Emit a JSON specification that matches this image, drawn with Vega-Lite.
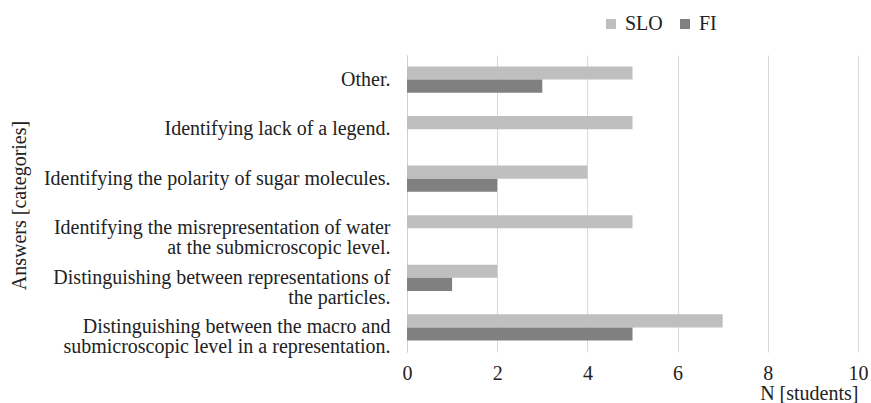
{
  "$schema": "https://vega.github.io/schema/vega-lite/v6.json",
  "autosize": {"type": "none"},
  "width": 451,
  "height": 297,
  "padding": {"left": 407, "top": 55, "right": 13, "bottom": 51},
  "background": "white",
  "config": {
    "view": {"stroke": null},
    "font": "'Liberation Serif', 'Times New Roman', Times, serif",
    "text": {"font": "'Liberation Serif', 'Times New Roman', Times, serif"},
    "axis": {"labelFont": "'Liberation Serif', 'Times New Roman', Times, serif", "titleFont": "'Liberation Serif', 'Times New Roman', Times, serif", "labelColor": "#222", "titleColor": "#222", "titleFontWeight": "normal"},
    "legend": {"labelFont": "'Liberation Serif', 'Times New Roman', Times, serif"}
  },
  "data": {
    "values": [
      {"answer": "Other.", "series": "SLO", "n": 5},
      {"answer": "Other.", "series": "FI", "n": 3},
      {"answer": "Identifying lack of a legend.", "series": "SLO", "n": 5},
      {"answer": "Identifying lack of a legend.", "series": "FI", "n": 0},
      {"answer": "Identifying the polarity of sugar molecules.", "series": "SLO", "n": 4},
      {"answer": "Identifying the polarity of sugar molecules.", "series": "FI", "n": 2},
      {"answer": "Identifying the misrepresentation of water at the submicroscopic level.", "series": "SLO", "n": 5},
      {"answer": "Identifying the misrepresentation of water at the submicroscopic level.", "series": "FI", "n": 0},
      {"answer": "Distinguishing between representations of the particles.", "series": "SLO", "n": 2},
      {"answer": "Distinguishing between representations of the particles.", "series": "FI", "n": 1},
      {"answer": "Distinguishing between the macro and submicroscopic level in a representation.", "series": "SLO", "n": 7},
      {"answer": "Distinguishing between the macro and submicroscopic level in a representation.", "series": "FI", "n": 5}
    ]
  },
  "mark": {"type": "bar"},
  "encoding": {
    "y": {
      "field": "answer",
      "type": "nominal",
      "sort": null,
      "scale": {"paddingInner": 0.47, "paddingOuter": 0.23},
      "axis": {
        "title": "Answers [categories]",
        "titleFontSize": 20,
        "titleX": -388,
        "titleY": 150,
        "titleAngle": -90,
        "titleAlign": "center",
        "titleBaseline": "middle",
        "labelFontSize": 20,
        "labelPadding": 17,
        "labelLimit": 500,
        "ticks": false,
        "domain": true,
        "domainColor": "#d0d0d0",
        "labelLineHeight": 20,
        "labelExpr": "datum.value == 'Identifying the misrepresentation of water at the submicroscopic level.' ? ['Identifying the misrepresentation of water', 'at the submicroscopic level.'] : datum.value == 'Distinguishing between representations of the particles.' ? ['Distinguishing between representations of', 'the particles.'] : datum.value == 'Distinguishing between the macro and submicroscopic level in a representation.' ? ['Distinguishing between the macro and', 'submicroscopic level in a representation.'] : datum.value"
      }
    },
    "yOffset": {"field": "series", "type": "nominal", "sort": ["SLO", "FI"]},
    "x": {
      "field": "n",
      "type": "quantitative",
      "scale": {"domain": [0, 10]},
      "axis": {
        "title": "N [students]",
        "titleFontSize": 20,
        "titleAnchor": "end",
        "titlePadding": 0,
        "values": [0, 2, 4, 6, 8, 10],
        "labelFontSize": 20,
        "labelPadding": 11,
        "ticks": false,
        "domain": false,
        "grid": true,
        "gridColor": "#d9d9d9",
        "labelFlush": false
      }
    },
    "color": {
      "field": "series",
      "type": "nominal",
      "scale": {"domain": ["SLO", "FI"], "range": ["#bfbfbf", "#808080"]},
      "legend": {
        "title": null,
        "orient": "none",
        "direction": "horizontal",
        "legendX": 194,
        "legendY": -41,
        "symbolType": "square",
        "symbolSize": 100,
        "symbolStrokeWidth": 0,
        "labelFontSize": 20,
        "labelColor": "#222",
        "columnPadding": 12,
        "labelOffset": 4
      }
    }
  }
}
